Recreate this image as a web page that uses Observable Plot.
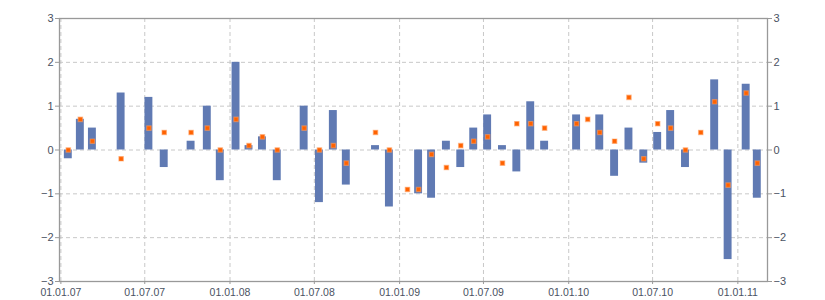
<!DOCTYPE html>
<html>
<head>
<meta charset="utf-8">
<script src="https://cdn.jsdelivr.net/npm/d3@7"></script>
<script src="https://cdn.jsdelivr.net/npm/@observablehq/plot@0.6"></script>
<style>
  html, body { margin: 0; padding: 0; background: #fff; }
  #chart svg { display: block; }
</style>
</head>
<body>
<div id="chart"></div>
<script>
const dates = [
  "2007-01-17","2007-02-12","2007-03-10","2007-05-11","2007-07-10","2007-08-12",
  "2007-10-09","2007-11-13","2007-12-11","2008-01-14","2008-02-11","2008-03-11",
  "2008-04-12","2008-06-09","2008-07-12","2008-08-11","2008-09-08","2008-11-10",
  "2008-12-10","2009-01-18","2009-02-11","2009-03-11","2009-04-12","2009-05-13",
  "2009-06-10","2009-07-10","2009-08-11","2009-09-11","2009-10-11","2009-11-10",
  "2010-01-18","2010-02-11","2010-03-09","2010-04-10","2010-05-11","2010-06-12",
  "2010-07-12","2010-08-09","2010-09-10","2010-10-13","2010-11-12","2010-12-11",
  "2011-01-19","2011-02-12"
];
const barValues = [
  -0.2, 0.7, 0.5, 1.3, 1.2, -0.4,
  0.2, 1.0, -0.7, 2.0, 0.1, 0.3,
  -0.7, 1.0, -1.2, 0.9, -0.8, 0.1,
  -1.3, null, -1.0, -1.1, 0.2, -0.4,
  0.5, 0.8, 0.1, -0.5, 1.1, 0.2,
  0.8, null, 0.8, -0.6, 0.5, -0.3,
  0.4, 0.9, -0.4, null, 1.6, -2.5,
  1.5, -1.1
];
const pointValues = [
  0.0, 0.7, 0.2, -0.2, 0.5, 0.4,
  0.4, 0.5, 0.0, 0.7, 0.1, 0.3,
  0.0, 0.5, 0.0, 0.1, -0.3, 0.4,
  0.0, -0.9, -0.9, -0.1, -0.4, 0.1,
  0.2, 0.3, -0.3, 0.6, 0.6, 0.5,
  0.6, 0.7, 0.4, 0.2, 1.2, -0.2,
  0.6, 0.5, 0.0, 0.4, 1.1, -0.8,
  1.3, -0.3
];
const xTickLabels = ["2007-01-01","2007-07-01","2008-01-01","2008-07-01","2009-01-01","2009-07-01","2010-01-01","2010-07-01","2011-01-01"];
const yTicks = [-3, -2, -1, 0, 1, 2, 3];

const data = dates.map((d, i) => ({date: new Date(d), bar: barValues[i], point: pointValues[i]}));
const bars = data.filter(d => d.bar != null);
const xTicks = xTickLabels.map(d => new Date(d));

const axisColor = "#999999";
const textColor = "#4a5262";
const gridStyle = {stroke: "#c8c8c8", strokeOpacity: 1, strokeDasharray: "4,3", strokeWidth: 1};

const chart = Plot.plot({
  width: 825,
  height: 300,
  marginLeft: 59,
  marginRight: 58,
  marginTop: 18,
  marginBottom: 19,
  style: {fontFamily: "'Liberation Sans', Arial, sans-serif", fontSize: "11px", color: textColor, background: "#fff"},
  x: {type: "utc", domain: [new Date("2006-12-29"), new Date("2011-03-06")]},
  y: {domain: [-3, 3]},
  marks: [
    Plot.gridX(xTicks, {...gridStyle}),
    Plot.gridY(yTicks, {...gridStyle}),
    Plot.rectY(bars, {
      x1: d => d3.utcHour.offset(d.date, -205),
      x2: d => d3.utcHour.offset(d.date, 205),
      y1: 0,
      y2: "bar",
      fill: "#607ab3"
    }),
    Plot.dot(data, {
      x: "date", y: "point", symbol: "square", r: 2.5,
      fill: "#ff6200", stroke: "#ff9d5c", strokeOpacity: 0.55, strokeWidth: 1.2
    }),
    Plot.frame({stroke: axisColor, strokeWidth: 1.3}),
    Plot.axisY(yTicks, {anchor: "left", tickSize: 4, tickPadding: 2, stroke: axisColor, fill: textColor, label: null}),
    Plot.axisY(yTicks, {anchor: "right", tickSize: 4, tickPadding: 2, stroke: axisColor, fill: textColor, label: null}),
    Plot.axisX(xTicks, {anchor: "bottom", tickSize: 3, tickPadding: 4, fontSize: 10.5, tickFormat: d3.utcFormat("%d.%m.%y"), stroke: axisColor, fill: textColor, label: null})
  ]
});
document.getElementById("chart").appendChild(chart);
</script>
</body>
</html>
